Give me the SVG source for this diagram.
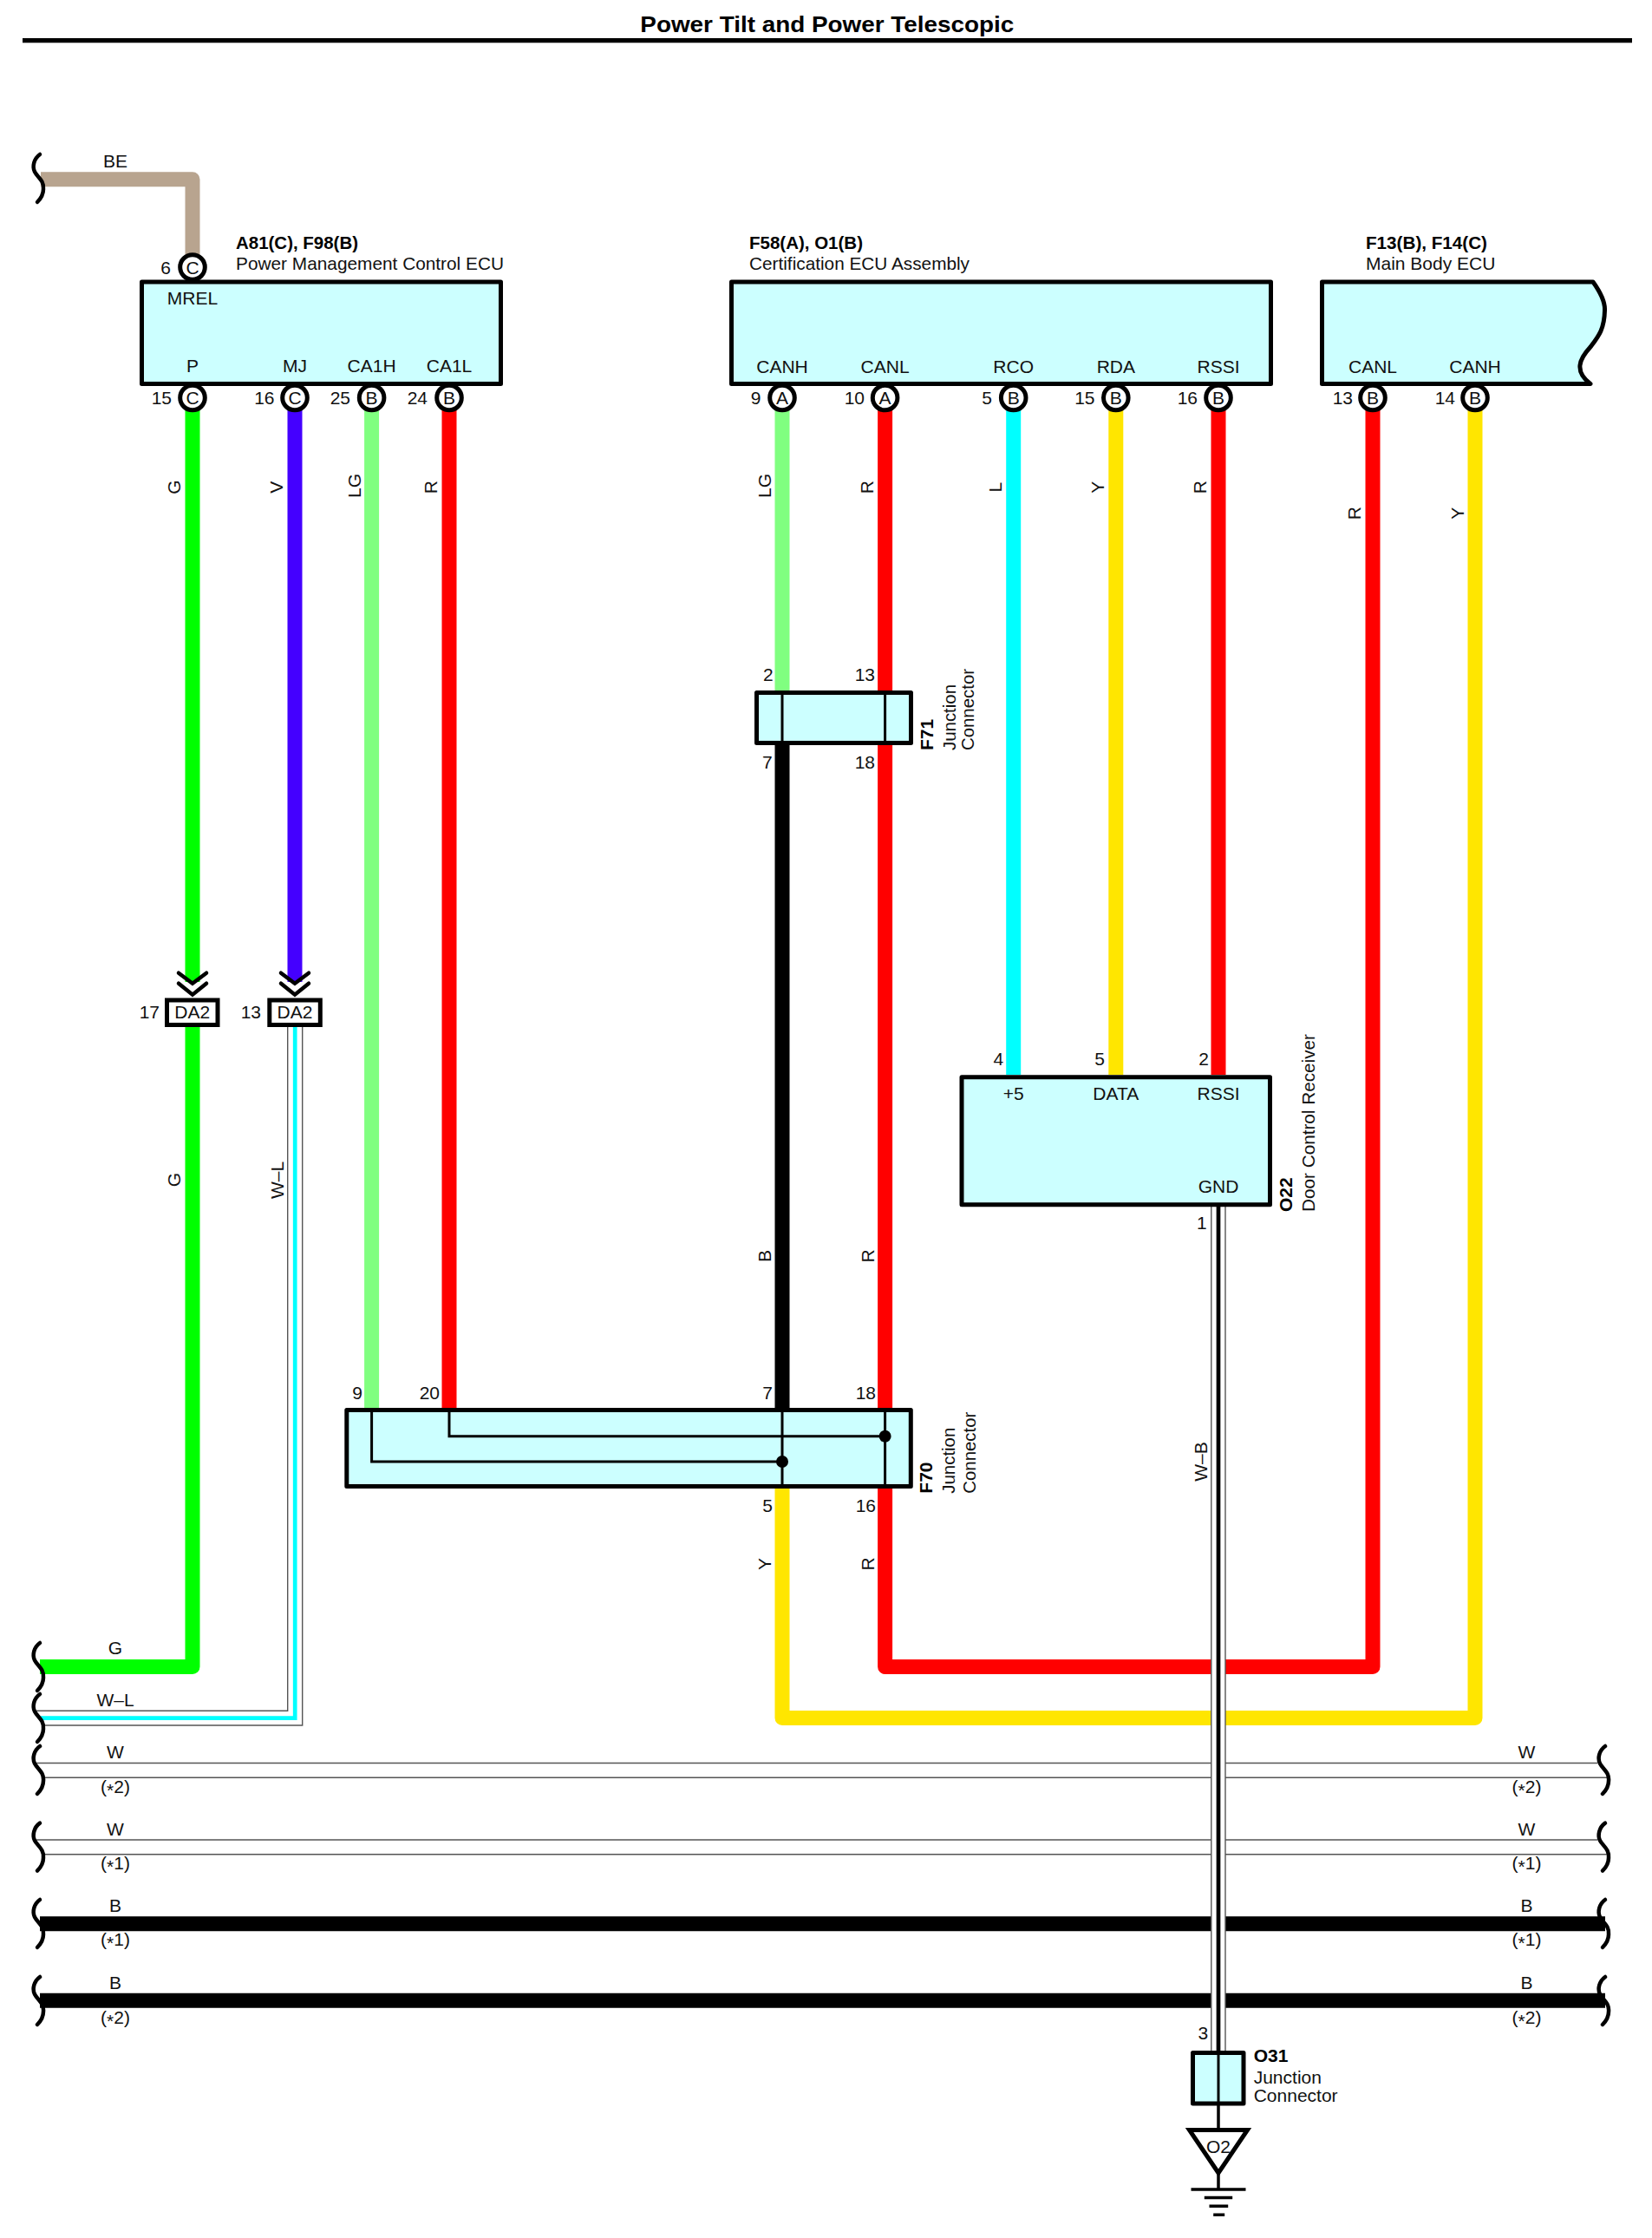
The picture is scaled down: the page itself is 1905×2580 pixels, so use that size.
<svg xmlns="http://www.w3.org/2000/svg" xmlns:xlink="http://www.w3.org/1999/xlink" width="1905" height="2580" viewBox="0 0 1905 2580">
<style>
text{font-family:"Liberation Sans",Arial,sans-serif;font-size:21px;fill:#111}
.b{font-weight:bold;fill:#000}.m{text-anchor:middle}.e{text-anchor:end}
.w{fill:none;stroke-width:17;stroke-linejoin:round}
.G{stroke:#00ff00}.V{stroke:#4400ff}.LG{stroke:#80ff80}.R{stroke:#ff0000}.L{stroke:#00ffff}.Y{stroke:#ffe600}.K{stroke:#000}.BE{stroke:#b8a48f}
.thin{fill:none;stroke:#555;stroke-width:1.4}
.core{fill:none;stroke-width:4.7;stroke-linejoin:miter}
.box{fill:#ccffff;stroke:#000;stroke-width:5;stroke-linejoin:round}
.dbox{fill:#fff;stroke:#000;stroke-width:5}
.pin{fill:#fff;stroke:#000;stroke-width:5}
.ln{fill:none;stroke:#000;stroke-width:3}
.chev{fill:none;stroke:#000;stroke-width:4.5;stroke-linejoin:miter;stroke-linecap:round}
.brk{fill:none;stroke:#000;stroke-width:4.5;stroke-linecap:round}
</style>
<defs>
<path id="brace" class="brk" d="M46 0C39 5 37 14 40 20C43 26 51 30 50 40C50 46 47 51 43 55"/>
<g id="dchev"><path class="chev" d="M-16 -29L0 -17L16 -29"/><path class="chev" d="M-16 -17L0 -4L16 -17"/></g>
</defs>
<text id="title" class="b m" x="953.8" y="36.7" style="font-size:26.5px" textLength="431" lengthAdjust="spacingAndGlyphs">Power Tilt and Power Telescopic</text>
<rect id="title-rule" x="26" y="44" width="1856" height="5.3" fill="#000"/>

<g id="connectors">
<path class="w BE" d="M47 206.7H222V300"/>
<path class="w G" d="M222 458V1132"/>
<path class="w V" d="M340 458V1132"/>
<path class="w G" d="M222 1184V1921.5H46"/>
<path class="w LG" d="M428.6 458V1623"/>
<path class="w R" d="M518 458V1623"/>
<path class="w LG" d="M902 459V796"/>
<path class="w K" d="M902 859V1623"/>
<path class="w R" d="M1020.6 459V796"/>
<path class="w R" d="M1020.6 859V1623"/>
<path class="w L" d="M1168.7 459V1239"/>
<path class="w Y" d="M1286.8 459V1239"/>
<path class="w R" d="M1405 459V1239"/>
<path class="w R" d="M1020.6 1716V1921.5H1583V459"/>
<path class="w Y" d="M902 1716V1980.5H1701V459"/>
<path class="thin" d="M42 1972.3H331.7V1184"/>
<path class="thin" d="M50 1989H348.7V1184"/>
<path class="core L" d="M46.5 1980.7H340.2V1184"/>
<path class="thin" d="M42 2032.5H1842M50 2049.3H1855M42 2121H1842M50 2137.7H1855"/>
<path class="w K" d="M46 2217.8H1851M46 2306.3H1851"/>
<rect x="1396.8" y="1391" width="16.2" height="973" fill="#fff"/>
<path class="thin" d="M1396.8 1391V2364M1413 1391V2364"/>
<path class="core K" d="M1405 1391V2364"/>
<g id="break-marks">
<use xlink:href="#brace" href="#brace" y="178"/>
<use xlink:href="#brace" href="#brace" y="1894"/>
<use xlink:href="#brace" href="#brace" y="1953"/>
<use xlink:href="#brace" href="#brace" y="2013"/>
<use xlink:href="#brace" href="#brace" y="2101.7"/>
<use xlink:href="#brace" href="#brace" y="2190"/>
<use xlink:href="#brace" href="#brace" y="2279"/>
<use xlink:href="#brace" href="#brace" x="1805" y="2013"/>
<use xlink:href="#brace" href="#brace" x="1805" y="2101.7"/>
<use xlink:href="#brace" href="#brace" x="1805" y="2190"/>
<use xlink:href="#brace" href="#brace" x="1805" y="2279"/>
</g>
<g id="wire-labels">
<text class="m" x="133" y="193">BE</text>
<text class="m" x="133" y="1907.3">G</text>
<text class="m" x="133" y="1967.3">W–L</text>
<text class="m" x="133" y="2027.3">W</text>
<text class="m" x="133" y="2066.7">(<tspan dy="4">*</tspan><tspan dy="-4">2)</tspan></text>
<text class="m" x="133" y="2116">W</text>
<text class="m" x="133" y="2155">(<tspan dy="4">*</tspan><tspan dy="-4">1)</tspan></text>
<text class="m" x="133" y="2204.3">B</text>
<text class="m" x="133" y="2243.3">(<tspan dy="4">*</tspan><tspan dy="-4">1)</tspan></text>
<text class="m" x="133" y="2292.7">B</text>
<text class="m" x="133" y="2332.7">(<tspan dy="4">*</tspan><tspan dy="-4">2)</tspan></text>
<text class="m" x="1760.5" y="2027.3">W</text>
<text class="m" x="1760.5" y="2066.7">(<tspan dy="4">*</tspan><tspan dy="-4">2)</tspan></text>
<text class="m" x="1760.5" y="2116">W</text>
<text class="m" x="1760.5" y="2155">(<tspan dy="4">*</tspan><tspan dy="-4">1)</tspan></text>
<text class="m" x="1760.5" y="2204.3">B</text>
<text class="m" x="1760.5" y="2243.3">(<tspan dy="4">*</tspan><tspan dy="-4">1)</tspan></text>
<text class="m" x="1760.5" y="2292.7">B</text>
<text class="m" x="1760.5" y="2332.7">(<tspan dy="4">*</tspan><tspan dy="-4">2)</tspan></text>
<text class="m" transform="rotate(-90 208 561.7)" x="208" y="561.7">G</text>
<text class="m" transform="rotate(-90 326.5 561.7)" x="326.5" y="561.7">V</text>
<text class="m" transform="rotate(-90 415.5 560)" x="415.5" y="560">LG</text>
<text class="m" transform="rotate(-90 504.5 561.7)" x="504.5" y="561.7">R</text>
<text class="m" transform="rotate(-90 888.5 560)" x="888.5" y="560">LG</text>
<text class="m" transform="rotate(-90 1007.5 561.7)" x="1007.5" y="561.7">R</text>
<text class="m" transform="rotate(-90 1155.5 561.7)" x="1155.5" y="561.7">L</text>
<text class="m" transform="rotate(-90 1273.5 561.7)" x="1273.5" y="561.7">Y</text>
<text class="m" transform="rotate(-90 1391.5 561.7)" x="1391.5" y="561.7">R</text>
<text class="m" transform="rotate(-90 1569.5 591.7)" x="1569.5" y="591.7">R</text>
<text class="m" transform="rotate(-90 1688 591.7)" x="1688" y="591.7">Y</text>
<text class="m" transform="rotate(-90 208 1360)" x="208" y="1360">G</text>
<text class="m" transform="rotate(-90 327 1360.5)" x="327" y="1360.5">W–L</text>
<text class="m" transform="rotate(-90 888.5 1448)" x="888.5" y="1448">B</text>
<text class="m" transform="rotate(-90 1007.5 1448)" x="1007.5" y="1448">R</text>
<text class="m" transform="rotate(-90 1391.5 1685)" x="1391.5" y="1685">W–B</text>
<text class="m" transform="rotate(-90 889 1803)" x="889" y="1803">Y</text>
<text class="m" transform="rotate(-90 1007.5 1803)" x="1007.5" y="1803">R</text>
</g>
</g>

<g id="power-management-ecu">
<rect class="box" x="163.5" y="325" width="414" height="117.5"/>
<text class="b" x="272" y="287" textLength="141" lengthAdjust="spacingAndGlyphs">A81(C), F98(B)</text>
<text x="272" y="311" textLength="309" lengthAdjust="spacingAndGlyphs">Power Management Control ECU</text>
<circle class="pin" cx="222" cy="308" r="14.3"/><text class="m" x="222" y="315.5">C</text><text class="e" x="197" y="315.5">6</text>
<text class="m" x="222" y="351">MREL</text>
<text class="m" x="222" y="429">P</text><text class="m" x="340" y="429">MJ</text><text class="m" x="428.6" y="429">CA1H</text><text class="m" x="518" y="429">CA1L</text>
<circle class="pin" cx="222" cy="458.5" r="14.3"/><text class="m" x="222" y="466">C</text><text class="e" x="198" y="466">15</text>
<circle class="pin" cx="340" cy="458.5" r="14.3"/><text class="m" x="340" y="466">C</text><text class="e" x="316.5" y="466">16</text>
<circle class="pin" cx="428.6" cy="458.5" r="14.3"/><text class="m" x="428.6" y="466">B</text><text class="e" x="404" y="466">25</text>
<circle class="pin" cx="518" cy="458.5" r="14.3"/><text class="m" x="518" y="466">B</text><text class="e" x="493" y="466">24</text>
</g>

<g id="certification-ecu">
<rect class="box" x="843.5" y="325" width="622" height="117.5"/>
<text class="b" x="864" y="287" textLength="131" lengthAdjust="spacingAndGlyphs">F58(A), O1(B)</text>
<text x="864" y="311" textLength="254" lengthAdjust="spacingAndGlyphs">Certification ECU Assembly</text>
<text class="m" x="902" y="429.5">CANH</text><text class="m" x="1020.6" y="429.5">CANL</text><text class="m" x="1168.7" y="429.5">RCO</text><text class="m" x="1286.8" y="429.5">RDA</text><text class="m" x="1405" y="429.5">RSSI</text>
<circle class="pin" cx="902" cy="458.5" r="14.3"/><text class="m" x="902" y="466">A</text><text class="e" x="877.5" y="466">9</text>
<circle class="pin" cx="1020.6" cy="458.5" r="14.3"/><text class="m" x="1020.6" y="466">A</text><text class="e" x="997" y="466">10</text>
<circle class="pin" cx="1168.7" cy="458.5" r="14.3"/><text class="m" x="1168.7" y="466">B</text><text class="e" x="1144" y="466">5</text>
<circle class="pin" cx="1286.8" cy="458.5" r="14.3"/><text class="m" x="1286.8" y="466">B</text><text class="e" x="1262.5" y="466">15</text>
<circle class="pin" cx="1405" cy="458.5" r="14.3"/><text class="m" x="1405" y="466">B</text><text class="e" x="1381" y="466">16</text>
</g>

<g id="main-body-ecu">
<path class="box" d="M1524.5 325H1837C1847 339 1851 350 1850.5 358C1850 380 1843 388 1834 400C1821 414 1815 428 1834 442.5H1524.5Z"/>
<text class="b" x="1575" y="287" textLength="140" lengthAdjust="spacingAndGlyphs">F13(B), F14(C)</text>
<text x="1575" y="311">Main Body ECU</text>
<text class="m" x="1583" y="429.5">CANL</text><text class="m" x="1701" y="429.5">CANH</text>
<circle class="pin" cx="1583" cy="458.5" r="14.3"/><text class="m" x="1583" y="466">B</text><text class="e" x="1560" y="466">13</text>
<circle class="pin" cx="1701" cy="458.5" r="14.3"/><text class="m" x="1701" y="466">B</text><text class="e" x="1678" y="466">14</text>
</g>

<g id="f71-junction">
<rect class="box" x="872.5" y="798.5" width="178" height="58"/>
<path class="ln" d="M902 798.5V856.5M1020.6 798.5V856.5"/>
<text class="e" x="891.7" y="784.5">2</text><text class="e" x="1009" y="784.5">13</text>
<text class="e" x="890.7" y="885.7">7</text><text class="e" x="1009" y="885.7">18</text>
<text class="b" transform="rotate(-90 1075.5 865)" x="1075.5" y="865">F71</text>
<text transform="rotate(-90 1101.7 865)" x="1101.7" y="865" textLength="76" lengthAdjust="spacingAndGlyphs">Junction</text>
<text transform="rotate(-90 1123.3 865)" x="1123.3" y="865" textLength="94" lengthAdjust="spacingAndGlyphs">Connector</text>
</g>

<g id="da2-17">
<use xlink:href="#dchev" href="#dchev" x="222" y="1150.7"/>
<rect class="dbox" x="192.5" y="1153" width="58.5" height="28.5"/>
<text class="m" x="221.7" y="1173.5">DA2</text><text class="e" x="184" y="1173.5">17</text>
</g>
<g id="da2-13">
<use xlink:href="#dchev" href="#dchev" x="340" y="1150.7"/>
<rect class="dbox" x="310.8" y="1153" width="58.5" height="28.5"/>
<text class="m" x="340" y="1173.5">DA2</text><text class="e" x="301" y="1173.5">13</text>
</g>

<g id="o22-door-control-receiver">
<rect class="box" x="1109" y="1241.7" width="355.5" height="147"/>
<text class="e" x="1157.3" y="1228.3">4</text><text class="e" x="1274" y="1228.3">5</text><text class="e" x="1394" y="1228.3">2</text>
<text class="m" x="1168.7" y="1267.7">+5</text><text class="m" x="1286.8" y="1267.7">DATA</text><text class="m" x="1405" y="1267.7">RSSI</text><text class="m" x="1405" y="1375">GND</text>
<text class="e" x="1391.7" y="1417">1</text>
<text class="b" transform="rotate(-90 1490 1397)" x="1490" y="1397">O22</text>
<text transform="rotate(-90 1516 1397)" x="1516" y="1397" textLength="205" lengthAdjust="spacingAndGlyphs">Door Control Receiver</text>
</g>

<g id="f70-junction">
<rect class="box" x="399.8" y="1625.5" width="650.5" height="88"/>
<path class="ln" d="M428.6 1625.5V1685H902M518 1625.5V1655.7H1020.6M902 1625.5V1713.5M1020.6 1625.5V1713.5"/>
<circle cx="1020.6" cy="1655.7" r="7"/><circle cx="902" cy="1685" r="7"/>
<text class="e" x="418" y="1612.7">9</text><text class="e" x="507" y="1612.7">20</text><text class="e" x="891" y="1612.7">7</text><text class="e" x="1010" y="1612.7">18</text>
<text class="e" x="891" y="1742.7">5</text><text class="e" x="1010" y="1742.7">16</text>
<text class="b" transform="rotate(-90 1075.5 1721.7)" x="1075.5" y="1721.7">F70</text>
<text transform="rotate(-90 1101.4 1721.7)" x="1101.4" y="1721.7" textLength="76" lengthAdjust="spacingAndGlyphs">Junction</text>
<text transform="rotate(-90 1124.8 1721.7)" x="1124.8" y="1721.7" textLength="94" lengthAdjust="spacingAndGlyphs">Connector</text>
</g>

<g id="o31-junction">
<rect class="box" x="1375.5" y="2366.5" width="58.5" height="58.5"/>
<path class="ln" d="M1405 2366.5V2425"/>
<text class="e" x="1393.3" y="2351">3</text>
<text class="b" x="1445.7" y="2377.3">O31</text>
<text x="1445.7" y="2401.7">Junction</text>
<text x="1445.7" y="2423.3">Connector</text>
</g>

<g id="o2-ground">
<path class="ln" style="stroke-width:3.5" d="M1405 2427V2454M1405 2505V2524M1373.5 2524H1436.5M1388.8 2533.5H1421.2M1394.5 2543.3H1416.2M1399.2 2553.3H1412.2"/>
<path d="M1371.5 2455.5H1438.5L1405 2505Z" fill="#fff" stroke="#000" stroke-width="5"/>
<text class="m" x="1405" y="2481.7">O2</text>
</g>
</svg>
